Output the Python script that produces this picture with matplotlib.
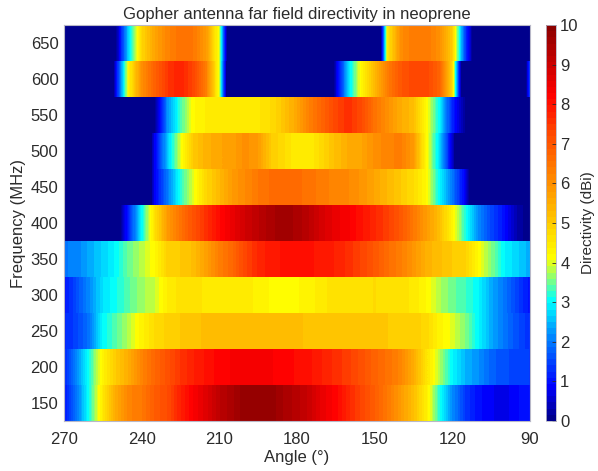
import numpy as np
import matplotlib
matplotlib.use("Agg")
import matplotlib.pyplot as plt
from matplotlib.colors import LinearSegmentedColormap, ListedColormap

plt.rcParams['font.family'] = ['Liberation Sans', 'DejaVu Sans']

# Far-field directivity (dBi) sampled every 5 degrees from 270 down to 90
angles = np.arange(270, 89, -5)
freqs = [150, 200, 250, 300, 350, 400, 450, 500, 550, 600, 650]

d150 = [1.0, 2.0, 3.2, 4.5, 5.5, 6.2, 6.4, 6.9, 7.2, 7.8, 8.3, 8.7, 9.2, 9.5, 9.8, 9.8, 9.8, 9.5, 9.3,
        9.0, 8.5, 8.2, 7.7, 7.3, 6.9, 6.4, 5.8, 5.2, 4.4, 3.2, 2.2, 1.4, 1.0, 0.8, 0.7, 0.9, 1.1]
d200 = [1.2, 2.2, 3.2, 4.3, 5.0, 5.5, 6.2, 6.7, 7.1, 7.5, 7.8, 8.0, 8.2, 8.3, 8.3, 8.3, 8.3, 8.2, 8.1,
        8.0, 7.8, 7.6, 7.4, 7.1, 6.8, 6.5, 6.2, 5.5, 4.6, 3.8, 3.0, 2.5, 2.2, 1.8, 1.6, 1.5, 1.4]
d250 = [1.2, 1.5, 2.0, 3.0, 3.4, 3.8, 4.3, 4.7, 4.9, 5.0, 5.1, 5.2, 5.2, 5.2, 5.2, 5.2, 5.2, 5.2, 5.2,
        5.1, 5.1, 5.1, 5.1, 5.0, 5.0, 5.0, 4.9, 4.9, 4.8, 4.3, 4.0, 3.6, 3.0, 2.4, 2.0, 1.6, 1.3]
d300 = [1.0, 1.6, 2.2, 2.8, 3.1, 3.4, 3.7, 3.9, 4.4, 4.6, 4.6, 4.5, 4.5, 4.4, 4.5, 4.3, 4.2, 4.2, 4.2,
        4.3, 4.5, 4.6, 4.6, 4.6, 4.7, 4.6, 4.6, 4.5, 4.2, 3.8, 3.5, 3.3, 3.0, 2.4, 2.0, 1.5, 1.0]
d350 = [2.0, 2.1, 2.4, 2.7, 3.0, 3.5, 3.8, 4.2, 4.9, 5.0, 5.2, 5.7, 6.3, 6.7, 7.3, 7.7, 7.9, 8.0, 8.0,
        8.0, 7.9, 7.8, 7.6, 7.3, 7.0, 6.6, 6.3, 5.9, 5.4, 5.2, 5.0, 4.9, 4.2, 3.6, 3.0, 2.7, 2.4]
d400 = [-4, -4, -4, -3, -0.5, 1.2, 3.0, 4.6, 5.8, 6.5, 7.1, 7.6, 8.1, 8.5, 8.9, 9.2, 9.5, 9.6, 9.5,
        9.2, 8.8, 8.5, 8.3, 8.0, 7.7, 7.4, 7.0, 6.4, 5.8, 5.2, 4.3, 3.2, 2.2, 1.5, 1.0, 0.3, 0.0]
d450 = [-4, -4, -4, -4, -4, -4, -2, 0.8, 2.0, 3.2, 4.0, 4.8, 5.3, 5.8, 6.1, 6.4, 6.6, 6.6, 6.6,
        6.5, 6.3, 6.2, 6.1, 5.9, 5.6, 5.3, 5.0, 4.7, 4.2, 3.0, 2.0, 0.8, -1.5, -4, -4, -4, -4]
d500 = [-4, -4, -4, -4, -4, -4, -2, 0.8, 2.6, 4.0, 5.0, 5.4, 5.6, 5.7, 6.0, 5.8, 5.0, 4.7, 4.4,
        4.4, 4.8, 5.2, 5.5, 5.6, 6.0, 6.2, 6.3, 5.8, 4.2, 2.8, 0.6, -2, -4, -4, -4, -4, -4]
d550 = [-4, -4, -4, -4, -4, -4, -3, 0.0, 2.2, 3.3, 4.2, 4.4, 4.5, 4.5, 4.5, 4.5, 4.7, 5.1, 5.6,
        6.3, 6.8, 7.3, 7.6, 7.2, 6.5, 6.0, 5.5, 5.2, 4.2, 3.0, 1.2, 0.1, -1, -4, -4, -4, -4]
d600 = [-5, -5, -5, -3, 0.8, 4.3, 6.0, 6.8, 7.5, 7.8, 7.3, 6.3, 4.0, -3, -6, -8, -10, -10, -10,
        -5, -2, 0.5, 2.8, 4.3, 5.3, 6.3, 7.0, 7.3, 7.3, 6.8, 4.8, -2, -4, -5, -5, -3, 1.5]
d650 = [-5, -5, -5, -3, 0.0, 2.8, 4.8, 5.6, 6.2, 6.5, 6.4, 5.8, 4.0, -2.5, -6, -8, -10, -10, -10,
        -10, -10, -10, -8, -6, -4, 4.5, 6.0, 6.4, 6.4, 6.0, 5.0, 1.5, -1, -4, -5, -5, -5]

rows = [d150, d200, d250, d300, d350, d400, d450, d500, d550, d600, d650]

freq_ticks = [150, 200, 250, 300, 350, 400, 450, 500, 550, 600, 650]
angle_ticks = [270, 240, 210, 180, 150, 120, 90]
cbar_ticks = list(range(0, 11))

# jet-like map with a compressed blue end and a wide yellow-to-red band
nodes = [(0.00, (0.00, 0.00, 0.55)),
         (0.08, (0.00, 0.00, 1.00)),
         (0.20, (0.00, 0.50, 1.00)),
         (0.30, (0.00, 1.00, 1.00)),
         (0.355, (0.50, 1.00, 0.50)),
         (0.41, (1.00, 1.00, 0.00)),
         (0.52, (1.00, 0.75, 0.00)),
         (0.63, (1.00, 0.50, 0.00)),
         (0.73, (1.00, 0.28, 0.00)),
         (0.83, (1.00, 0.00, 0.00)),
         (1.00, (0.55, 0.00, 0.00))]
base = LinearSegmentedColormap.from_list('directivity', nodes, N=256)
cmap = ListedColormap(base(np.linspace(0, 1, 64)))

text_color = '#2b2b2b'
frame_color = '#b8b8c8'

fig = plt.figure(figsize=(5.98, 4.71), dpi=100)
W, H = 598, 471
ax = fig.add_axes([64 / W, 1 - 421 / H, 466 / W, 396 / H])
cax = fig.add_axes([546 / W, 1 - 421 / H, 10 / W, 396 / H])

step = abs(angles[1] - angles[0])
half_f = 25
im = None
for f, vals in zip(freqs, rows):
    data = np.asarray(vals, dtype=float)[np.newaxis, :]
    im = ax.imshow(data, cmap=cmap, vmin=0, vmax=10, aspect='auto',
                   interpolation='bilinear', interpolation_stage='data',
                   extent=[angles[0] + step / 2, angles[-1] - step / 2, f - half_f, f + half_f],
                   origin='lower')

ax.set_xlim(270, 90)
ax.set_ylim(freqs[0] - half_f, freqs[-1] + half_f)
ax.set_xticks(angle_ticks)
ax.set_yticks(freq_ticks)
ax.tick_params(axis='x', direction='in', length=0, labelsize=12, colors=text_color, pad=8)
ax.tick_params(axis='y', direction='in', length=0, labelsize=12, colors=text_color, pad=4)
for s in ax.spines.values():
    s.set_color(frame_color)
    s.set_linewidth(0.8)

ax.set_title('Gopher antenna far field directivity in neoprene', fontsize=12,
             color=text_color, pad=4)
ax.set_xlabel('Angle (°)', fontsize=12, color=text_color, labelpad=2)
ax.set_ylabel('Frequency (MHz)', fontsize=12, color=text_color, labelpad=3)

cb = fig.colorbar(im, cax=cax, ticks=cbar_ticks)
cb.outline.set_edgecolor(frame_color)
cb.outline.set_linewidth(0.6)
cax.tick_params(direction='in', length=3, width=0.6, labelsize=12,
                colors=text_color, pad=3)
cb.set_label('Directivity (dBi)', fontsize=11, color=text_color, labelpad=2)

fig.savefig('out.png', dpi=100)
